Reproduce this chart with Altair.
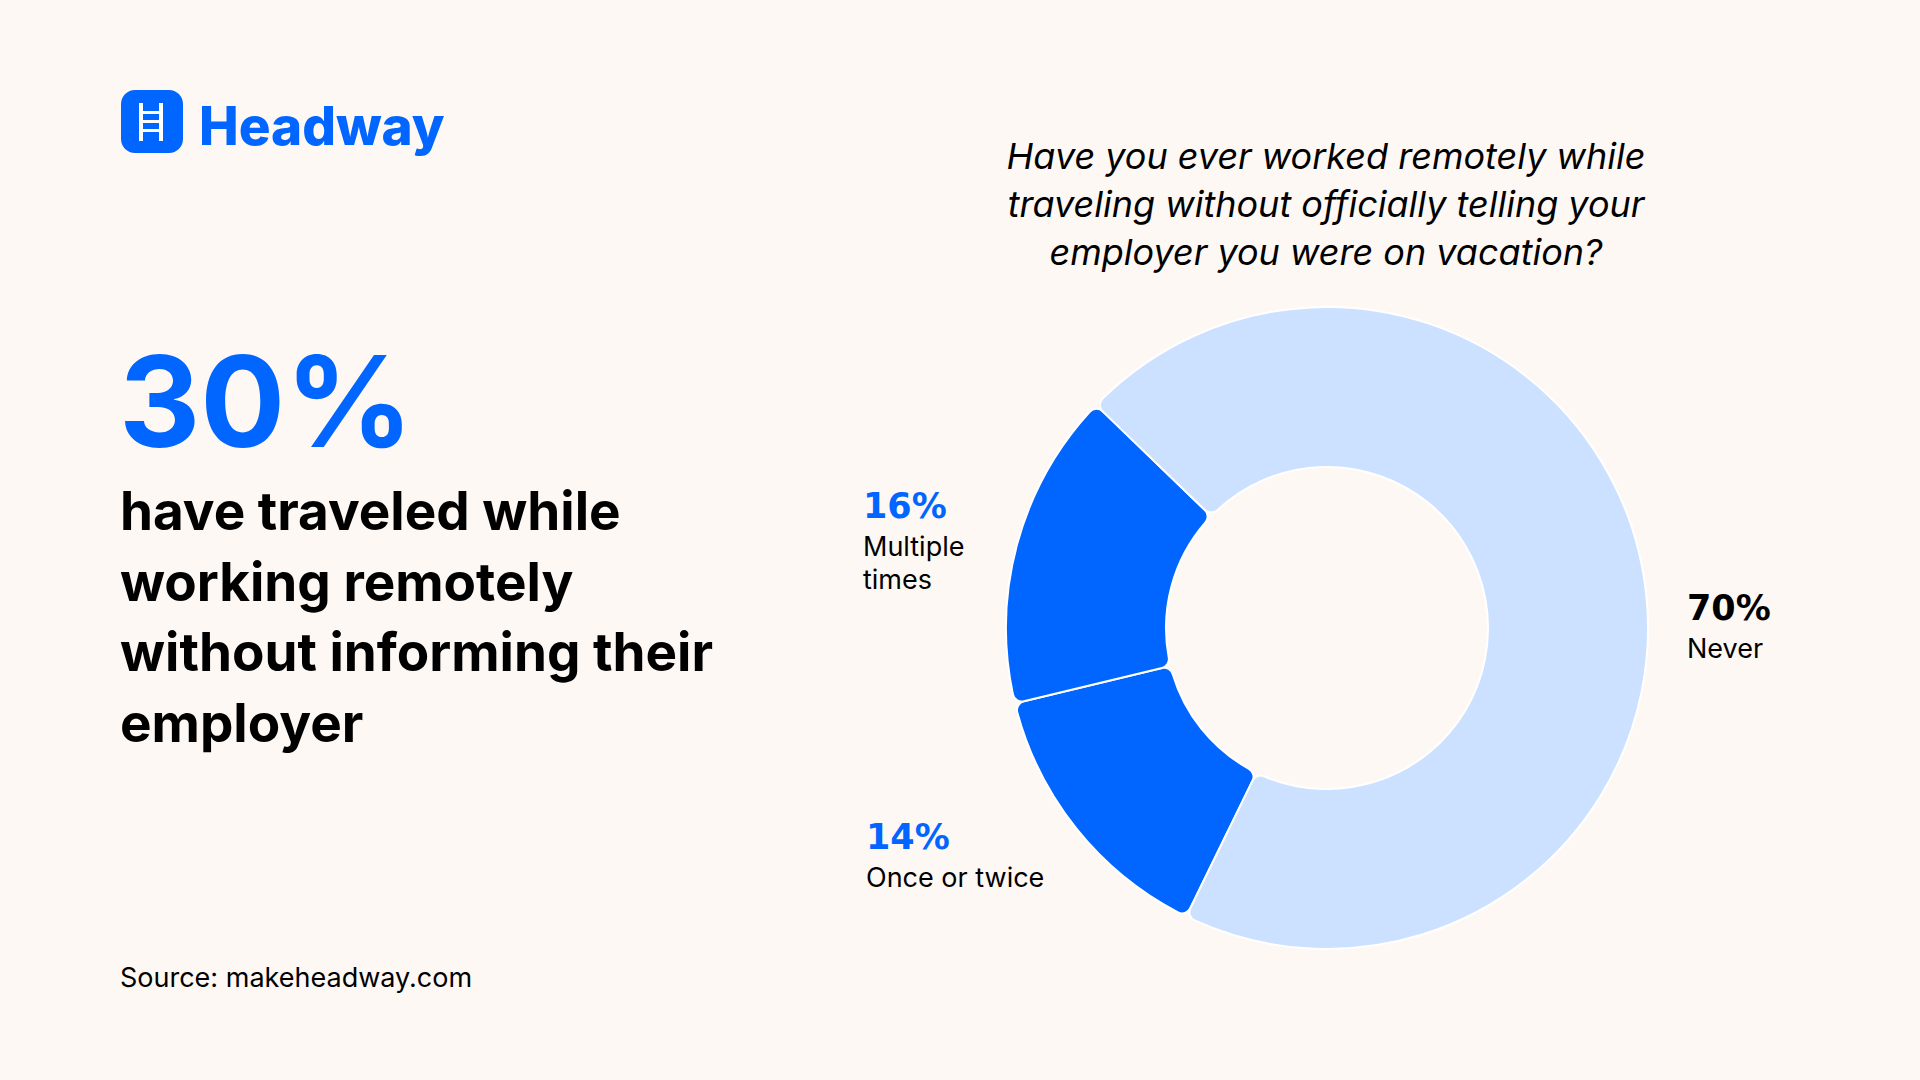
import math
import altair as alt
import pandas as pd

# ---- data ----
categories = ["Once or twice", "Multiple times", "Never"]
values = [14, 16, 70]
slice_colors = ["#0066FF", "#0066FF", "#CCE0FF"]
slice_order = [0, 1, 2]

question_lines = [
    "Have you ever worked remotely while",
    "traveling without officially telling your",
    "employer you were on vacation?",
]
headline = "30%"
body_lines = [
    "have traveled while",
    "working remotely",
    "without informing their",
    "employer",
]
label_pcts = ["16%", "14%", "70%"]
label_names = [["Multiple", "times"], ["Once or twice"], ["Never"]]
source_text = "Source: makeheadway.com"
brand = "Headway"

BG = "#FEF8F4"
BLUE = "#0066FF"
INK = "#000000"

W, H = 1920, 1080
CX, CY = 1327, 628
R_OUT, R_IN = 321, 161
start = math.radians(206)

df = pd.DataFrame({"category": categories, "value": values,
                   "color": slice_colors, "order": slice_order})

donut = alt.Chart(df).mark_arc(
    radius=R_OUT, radius2=R_IN, cornerRadius=9, stroke="#ffffff", strokeWidth=2
).encode(
    theta=alt.Theta("value:Q", stack=True,
                    scale=alt.Scale(domain=[0, sum(values)], range=[start, start + 2 * math.pi])),
    color=alt.Color("color:N", scale=None),
    order=alt.Order("order:Q"),
    x=alt.value(CX),
    y=alt.value(CY),
)

base_df = pd.DataFrame({"k": [0]})


def txt(text, x, y, size, color=INK, weight="normal", font="Inter", style="normal", align="left"):
    return alt.Chart(base_df).mark_text(
        text=text, fontSize=size, font=font, fontWeight=weight, fontStyle=style,
        color=color, align=align, baseline="alphabetic"
    ).encode(x=alt.value(x), y=alt.value(y))


layers = [donut]

# logo icon
icon = alt.Chart(base_df).mark_rect(cornerRadius=14, color=BLUE).encode(
    x=alt.value(121), x2=alt.value(183), y=alt.value(90), y2=alt.value(153))
layers.append(icon)
for xr in (139, 159):
    layers.append(alt.Chart(base_df).mark_rect(color="#ffffff").encode(
        x=alt.value(xr), x2=alt.value(xr + 4), y=alt.value(103), y2=alt.value(141)))
for yr in (111, 120, 129):
    layers.append(alt.Chart(base_df).mark_rect(color="#ffffff").encode(
        x=alt.value(139), x2=alt.value(163), y=alt.value(yr), y2=alt.value(yr + 3)))
layers.append(txt(brand, 199, 145, 53, color=BLUE, weight=800))

# headline
layers.append(txt(headline, 119, 447, 126, color=BLUE, weight=700))
for i, line in enumerate(body_lines):
    layers.append(txt(line, 120, 530 + i * 70.5, 53, weight=700))

# source
layers.append(txt(source_text, 120, 987, 27))

# question
for i, line in enumerate(question_lines):
    layers.append(txt(line, 1326, 169 + i * 48, 36, style="italic", align="center"))

# slice labels
layers.append(txt(label_pcts[0], 863, 518, 35, color=BLUE, weight="bold", font="DejaVu Sans"))
layers.append(txt(label_names[0][0], 863, 556, 27))
layers.append(txt(label_names[0][1], 863, 589, 27))
layers.append(txt(label_pcts[1], 866, 849, 35, color=BLUE, weight="bold", font="DejaVu Sans"))
layers.append(txt(label_names[1][0], 866, 887, 27))
layers.append(txt(label_pcts[2], 1687, 620, 35, color=INK, weight="bold", font="DejaVu Sans"))
layers.append(txt(label_names[2][0], 1687, 658, 27))

chart = alt.layer(*layers).properties(
    width=W, height=H, background=BG, padding=0,
    autosize=alt.AutoSizeParams(type="none"),
).configure_view(stroke=None)

chart.save("out.html", embed_options={"renderer": "svg", "actions": False})
